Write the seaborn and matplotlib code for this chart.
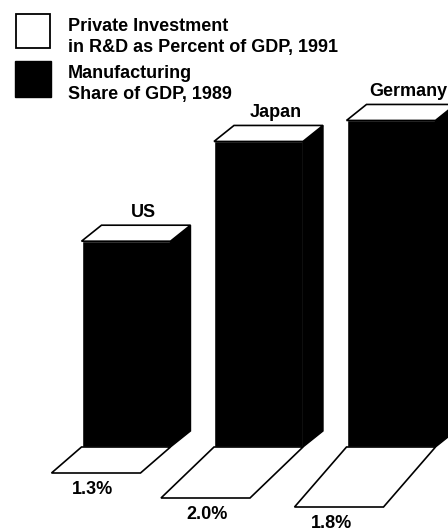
import matplotlib
matplotlib.use("Agg")
import matplotlib.pyplot as plt
import matplotlib.patches as mpatches
from matplotlib.transforms import Affine2D
import seaborn as sns

# values
countries = ["US", "Japan", "Germany"]
manufacturing_share = [19.6, 29.1, 31.1]
rd_labels = ["1.3%", "2.0%", "1.8%"]
legend_rd = ["Private Investment", "in R&D as Percent of GDP, 1991"]
legend_mfg = ["Manufacturing", "Share of GDP, 1989"]

W, H = 448, 532
# px scales of the axes
px_per_cat = 132.5
px_per_unit = 10.5
base_px = 447
first_px = 126

# drawn floor offset of each bar in pixels (not to scale in the original)
floor_dx = [30, 53, 52]
floor_dy = [26, 51, 60]
label_dx = [-4, 2, -7]
label_y_gap = 21
depth_x, depth_y = 20, 16

sns.set_theme(style="white")
plt.rcParams["font.family"] = ["Liberation Sans", "DejaVu Sans"]
plt.rcParams["font.weight"] = "bold"

fig = plt.figure(figsize=(W / 100, H / 100), dpi=100)
ax = fig.add_axes([0, 0, 1, 1])

sns.barplot(x=countries, y=manufacturing_share, color="black", saturation=1,
            width=89 / px_per_cat, ax=ax)

ax.set_xlim(-first_px / px_per_cat, (W - first_px) / px_per_cat)
ax.set_ylim(-(H - base_px) / px_per_unit, base_px / px_per_unit)
ax.axis("off")

dx = depth_x / px_per_cat
dy = depth_y / px_per_unit

for i, bar in enumerate(list(ax.patches)):
    x0 = bar.get_x()
    x1 = x0 + bar.get_width()
    h = bar.get_height()
    # side
    ax.add_patch(mpatches.Polygon([(x1, 0), (x1 + dx, dy), (x1 + dx, h + dy), (x1, h)],
                                  closed=True, fc="black", ec="black", lw=1))
    # top
    ax.add_patch(mpatches.Polygon([(x0, h), (x0 + dx, h + dy), (x1 + dx, h + dy), (x1, h)],
                                  closed=True, fc="white", ec="black", lw=1.2, zorder=3))
    # floor
    fx = floor_dx[i] / px_per_cat
    fy = floor_dy[i] / px_per_unit
    ax.add_patch(mpatches.Polygon([(x0, 0), (x0 - fx, -fy), (x1 - fx, -fy), (x1, 0)],
                                  closed=True, fc="white", ec="black", lw=1.2, zorder=3))
    # country name above the top
    ax.text((x0 + x1) / 2 + dx * 0.85, h + dy + 8 / px_per_unit, countries[i],
            ha="center", va="baseline", fontsize=13, color="black")
    # R&D percent under the floor
    ax.text((x0 + x1) / 2 - fx + label_dx[i] / px_per_cat,
            -fy - label_y_gap / px_per_unit, rd_labels[i],
            ha="center", va="baseline", fontsize=13, color="black")

# legend placed in pixels from top left
px = Affine2D().scale(1 / W, -1 / H).translate(0, 1) + fig.transFigure
ax.add_patch(mpatches.Rectangle((16, 14), 34, 34, fc="white", ec="black", lw=1.3, transform=px))
ax.add_patch(mpatches.Rectangle((15, 61), 36, 36, fc="black", ec="black", lw=1, transform=px))
ax.text(68, 31, legend_rd[0], transform=px, va="baseline", fontsize=13, color="black")
ax.text(68, 52, legend_rd[1], transform=px, va="baseline", fontsize=13, color="black")
ax.text(68, 78, legend_mfg[0], transform=px, va="baseline", fontsize=13, color="black")
ax.text(68, 99, legend_mfg[1], transform=px, va="baseline", fontsize=13, color="black")

fig.savefig("out.png", dpi=100)
plt.close(fig)
